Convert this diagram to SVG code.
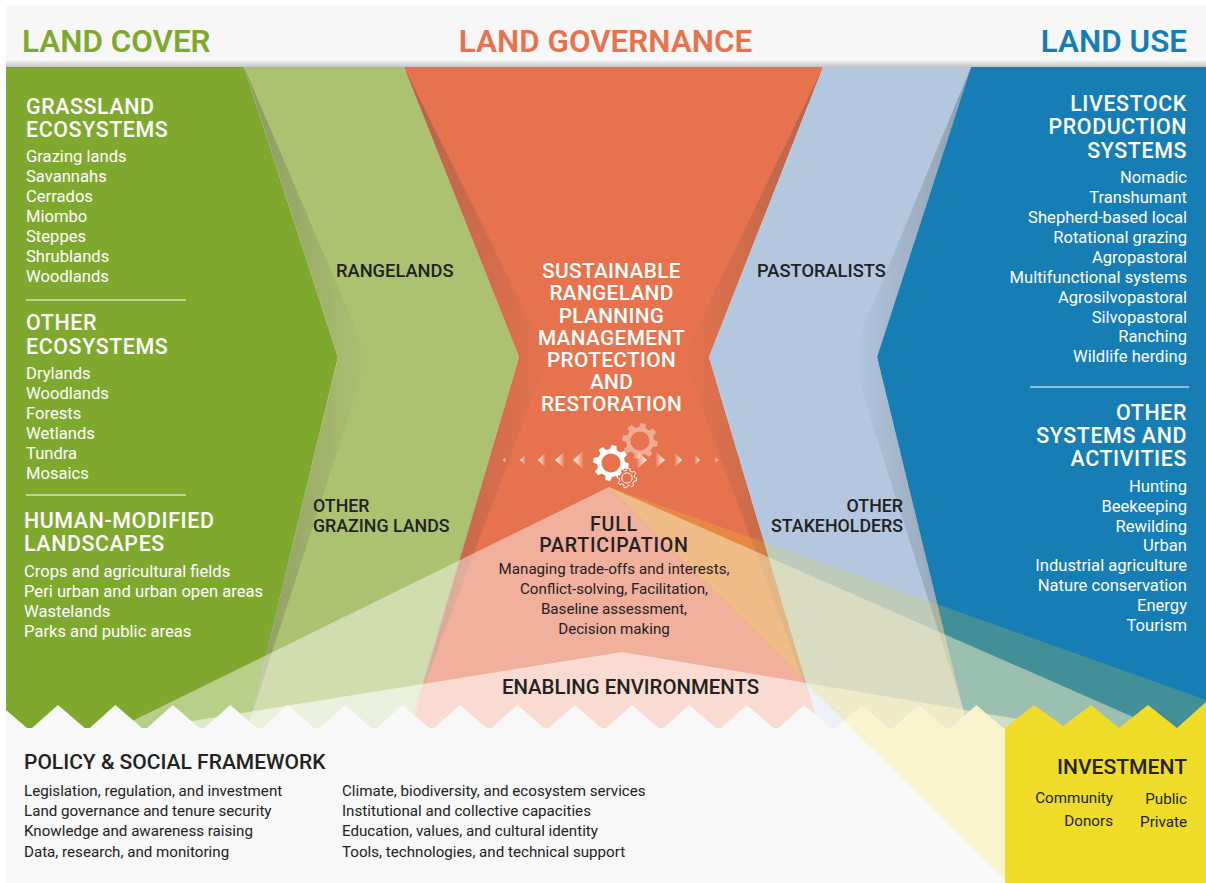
<svg xmlns="http://www.w3.org/2000/svg" width="1206" height="883" viewBox="0 0 1206 883">
<style>
text{font-family:Roboto,"Liberation Sans",sans-serif}
.h{font-size:31.4px;font-weight:600}
.w{fill:#fff}
.k{fill:#222}
.t{font-size:21.4px;font-weight:500;letter-spacing:.6px}
.i{font-size:16.6px}
.c{font-size:20.8px;font-weight:500;text-anchor:middle;letter-spacing:.35px}
.f{font-size:19.6px;font-weight:500;text-anchor:middle;letter-spacing:.8px}
.l{font-size:17.8px;font-weight:500}
.r{font-size:18.3px;font-weight:500}
.s{font-size:15.15px}
.m{font-size:15.15px;text-anchor:middle}
.e{text-anchor:end}
.rule{stroke:#fff;stroke-width:1.2}
</style>
<defs>
<linearGradient id="hs" x1="0" y1="0" x2="0" y2="1"><stop offset="0" stop-color="#f7f7f7"/><stop offset="1" stop-color="#c4c4c4"/></linearGradient>
<linearGradient id="sl" x1="0" y1="0" x2="1" y2="0"><stop offset="0" stop-color="#444" stop-opacity=".32"/><stop offset="1" stop-color="#444" stop-opacity="0"/></linearGradient>
<linearGradient id="sr" x1="1" y1="0" x2="0" y2="0"><stop offset="0" stop-color="#444" stop-opacity=".32"/><stop offset="1" stop-color="#444" stop-opacity="0"/></linearGradient>
<linearGradient id="al" x1="0" y1="0" x2="1" y2="0"><stop offset="0" stop-color="#fff"/><stop offset="1" stop-color="#fff" stop-opacity=".1"/></linearGradient>
<linearGradient id="ar" x1="1" y1="0" x2="0" y2="0"><stop offset="0" stop-color="#fff"/><stop offset="1" stop-color="#fff" stop-opacity=".1"/></linearGradient>
<path id="gearOut" d="M13.58 3.39L17.83 2.51L17.83 -2.51L13.58 -3.39L12 -7.21L14.38 -10.83L10.83 -14.38L7.21 -12L3.39 -13.58L2.51 -17.83L-2.51 -17.83L-3.39 -13.58L-7.21 -12L-10.83 -14.38L-14.38 -10.83L-12 -7.21L-13.58 -3.39L-17.83 -2.51L-17.83 2.51L-13.58 3.39L-12 7.21L-14.38 10.83L-10.83 14.38L-7.21 12L-3.39 13.58L-2.51 17.83L2.51 17.83L3.39 13.58L7.21 12L10.83 14.38L14.38 10.83L12 7.21Z"/>
<path id="gear" fill-rule="evenodd" d="M13.58 3.39L17.83 2.51L17.83 -2.51L13.58 -3.39L12 -7.21L14.38 -10.83L10.83 -14.38L7.21 -12L3.39 -13.58L2.51 -17.83L-2.51 -17.83L-3.39 -13.58L-7.21 -12L-10.83 -14.38L-14.38 -10.83L-12 -7.21L-13.58 -3.39L-17.83 -2.51L-17.83 2.51L-13.58 3.39L-12 7.21L-14.38 10.83L-10.83 14.38L-7.21 12L-3.39 13.58L-2.51 17.83L2.51 17.83L3.39 13.58L7.21 12L10.83 14.38L14.38 10.83L12 7.21ZM9.5 0A9.5 9.5 0 1 0 -9.5 0A9.5 9.5 0 1 0 9.5 0Z"/>
</defs>

<rect width="1206" height="883" fill="#fff"/>

<g id="panels">
<polygon fill="#7fa92e" points="6,67 244,67 338,357 248,730 6,730"/>
<polygon fill="#adc271" points="244,67 404,67 519,357 410,730 248,730 338,357"/>
<polygon fill="#e6734d" points="404,67 823,67 709,357 820,730 410,730 519,357"/>
<polygon fill="#b3c7df" points="823,67 971,67 877,357 968,730 820,730 709,357"/>
<polygon fill="#167eb4" points="971,67 1206,67 1206,730 968,730 877,357"/>
<polygon fill="url(#sl)" points="244,67 368,357 250,720 338,357"/>
<polygon fill="url(#sl)" points="404,67 548,357 414,712 519,357"/>
<polygon fill="url(#sr)" points="823,67 683,357 815,712 709,357"/>
<polygon fill="url(#sr)" points="971,67 851,357 964,712 877,357"/>
</g>

<g id="header">
<rect x="6" y="6" width="1200" height="55" fill="#f7f7f7"/>
<rect x="6" y="60" width="1200" height="7" fill="url(#hs)"/>
<text class="h" x="22" y="52" fill="#7fa92e">LAND COVER</text>
<text class="h" x="605.5" y="52" fill="#e6734d" text-anchor="middle">LAND GOVERNANCE</text>
<text class="h e" x="1187" y="52" fill="#167eb4">LAND USE</text>
</g>

<g id="overlays-left">
<polygon fill="#fff" fill-opacity=".44" points="609,487 6,783 6,883 1005,880"/>
<polygon fill="#fff" fill-opacity=".55" points="622,652 192,721 6,752 6,883 1005,880 807,683"/>
</g>

<g id="footer-base">
<polygon fill="#f8f8f8" points="6,710 27,728 32,728 58,705 84.7,728 89.7,728 115.4,705 142,728 147,728 172.8,705 199.5,728 204.5,728 230.2,705 256.9,728 261.9,728 287.6,705 314.3,728 319.3,728 345,705 371.7,728 376.7,728 402.4,705 429.1,728 434.1,728 459.8,705 486.5,728 491.5,728 517.2,705 543.9,728 548.9,728 574.6,705 601.3,728 606.3,728 632,705 658.7,728 663.7,728 689.4,705 716.1,728 721.1,728 746.8,705 773.5,728 778.5,728 804.2,705 830.9,728 835.9,728 861.6,705 888.3,728 893.3,728 919,705 945.7,728 950.7,728 976.4,705 1003.1,728 1010,728 1010,883 6,883"/>
</g>

<g id="overlays-right">
<polygon fill="#eedc28" fill-opacity=".2" points="609,487 1206,700 1206,883 1005,880"/>
<polygon fill="#f5eec8" fill-opacity=".5" points="609,487 1206,749 1206,883 1005,880"/>
<polygon fill="#fef7d2" fill-opacity=".55" points="807,683 1206,751 1206,883 1005,880"/>
</g>

<g id="investment">
<polygon fill="#eedc28" points="1005,728 1034,705 1063,726 1091,705 1119,728 1148,705 1177,728 1206,702 1206,883 1005,883"/>
<text class="k" x="1187" y="774" font-size="21.1" font-weight="500" text-anchor="end">INVESTMENT</text>
<text class="k e" x="1113" y="803" font-size="15.2">Community</text>
<text class="k e" x="1187" y="804" font-size="15.2">Public</text>
<text class="k e" x="1113" y="826" font-size="15.2">Donors</text>
<text class="k e" x="1187" y="827" font-size="15.2">Private</text>
</g>

<g id="land-cover">
<text class="w t" x="26" y="114">GRASSLAND</text>
<text class="w t" x="26" y="137">ECOSYSTEMS</text>
<text class="w i" x="26" y="162">Grazing lands</text>
<text class="w i" x="26" y="182">Savannahs</text>
<text class="w i" x="26" y="202">Cerrados</text>
<text class="w i" x="26" y="222">Miombo</text>
<text class="w i" x="26" y="242">Steppes</text>
<text class="w i" x="26" y="262">Shrublands</text>
<text class="w i" x="26" y="282">Woodlands</text>
<line class="rule" x1="26" y1="300" x2="186" y2="300"/>
<text class="w t" x="26" y="330">OTHER</text>
<text class="w t" x="26" y="354">ECOSYSTEMS</text>
<text class="w i" x="26" y="379">Drylands</text>
<text class="w i" x="26" y="399">Woodlands</text>
<text class="w i" x="26" y="419">Forests</text>
<text class="w i" x="26" y="439">Wetlands</text>
<text class="w i" x="26" y="459">Tundra</text>
<text class="w i" x="26" y="479">Mosaics</text>
<line class="rule" x1="26" y1="495" x2="186" y2="495"/>
<text class="w t" x="24" y="528">HUMAN-MODIFIED</text>
<text class="w t" x="24" y="551">LANDSCAPES</text>
<text class="w i" x="24" y="577">Crops and agricultural fields</text>
<text class="w i" x="24" y="597">Peri urban and urban open areas</text>
<text class="w i" x="24" y="617">Wastelands</text>
<text class="w i" x="24" y="637">Parks and public areas</text>
</g>

<g id="land-use">
<text class="w t e" x="1187" y="111">LIVESTOCK</text>
<text class="w t e" x="1187" y="134">PRODUCTION</text>
<text class="w t e" x="1187" y="158">SYSTEMS</text>
<text class="w i e" x="1187" y="183">Nomadic</text>
<text class="w i e" x="1187" y="203">Transhumant</text>
<text class="w i e" x="1187" y="223">Shepherd-based local</text>
<text class="w i e" x="1187" y="243">Rotational grazing</text>
<text class="w i e" x="1187" y="263">Agropastoral</text>
<text class="w i e" x="1187" y="283">Multifunctional systems</text>
<text class="w i e" x="1187" y="303">Agrosilvopastoral</text>
<text class="w i e" x="1187" y="323">Silvopastoral</text>
<text class="w i e" x="1187" y="342">Ranching</text>
<text class="w i e" x="1187" y="362">Wildlife herding</text>
<line class="rule" x1="1030" y1="387" x2="1189" y2="387"/>
<text class="w t e" x="1187" y="420">OTHER</text>
<text class="w t e" x="1187" y="443">SYSTEMS AND</text>
<text class="w t e" x="1187" y="466">ACTIVITIES</text>
<text class="w i e" x="1187" y="492">Hunting</text>
<text class="w i e" x="1187" y="512">Beekeeping</text>
<text class="w i e" x="1187" y="532">Rewilding</text>
<text class="w i e" x="1187" y="551">Urban</text>
<text class="w i e" x="1187" y="571">Industrial agriculture</text>
<text class="w i e" x="1187" y="591">Nature conservation</text>
<text class="w i e" x="1187" y="611">Energy</text>
<text class="w i e" x="1187" y="631">Tourism</text>
</g>

<g id="stakeholders">
<text class="k r" x="336" y="277">RANGELANDS</text>
<text class="k r" x="757" y="277">PASTORALISTS</text>
<text class="k l" x="313" y="512">OTHER</text>
<text class="k l" x="313" y="532">GRAZING LANDS</text>
<text class="k l e" x="903" y="512">OTHER</text>
<text class="k l e" x="903" y="532">STAKEHOLDERS</text>
</g>

<g id="governance">
<text class="w c" x="611.5" y="278">SUSTAINABLE</text>
<text class="w c" x="611.5" y="300">RANGELAND</text>
<text class="w c" x="611.5" y="323">PLANNING</text>
<text class="w c" x="611.5" y="345">MANAGEMENT</text>
<text class="w c" x="611.5" y="367">PROTECTION</text>
<text class="w c" x="611.5" y="389">AND</text>
<text class="w c" x="611.5" y="411">RESTORATION</text>
</g>

<g id="gears">
<g fill="url(#al)">
<polygon points="503,460 506,457 506,463"/>
<polygon points="520,460 525,455 525,465"/>
<polygon points="538,460 545,453 545,467"/>
<polygon points="555,460 564,452 564,468"/>
<polygon points="573,460 583,451 583,469"/>
</g>
<g fill="url(#ar)">
<polygon points="647,460 637,451 637,469"/>
<polygon points="665,460 656,452 656,468"/>
<polygon points="682,460 675,453 675,467"/>
<polygon points="700,460 695,455 695,465"/>
<polygon points="718,460 715,457 715,463"/>
</g>
<use href="#gear" transform="translate(640,441) rotate(10)" fill="#fff" fill-opacity=".4"/>
<use href="#gear" transform="translate(611,463) rotate(10)" fill="#fff"/>
<use href="#gearOut" transform="translate(627,478) rotate(10) scale(.55)" fill="#e6734d" stroke="#fff" stroke-width="1.6"/>
<circle cx="627" cy="478" r="5.2" fill="none" stroke="#fff" stroke-width=".9"/>
</g>

<g id="full-participation">
<text class="k f" x="614" y="531">FULL</text>
<text class="k f" x="614" y="552">PARTICIPATION</text>
<text class="k m" x="614" y="574">Managing trade-offs and interests,</text>
<text class="k m" x="614" y="594">Conflict-solving, Facilitation,</text>
<text class="k m" x="614" y="614">Baseline assessment,</text>
<text class="k m" x="614" y="634">Decision making</text>
</g>

<g id="enabling">
<text class="k" x="630.5" y="694" font-size="20.4" font-weight="500" text-anchor="middle">ENABLING ENVIRONMENTS</text>
</g>

<g id="policy">
<text class="k" x="24" y="769" font-size="21" font-weight="500">POLICY &amp; SOCIAL FRAMEWORK</text>
<text class="k s" x="24" y="796">Legislation, regulation, and investment</text>
<text class="k s" x="24" y="816">Land governance and tenure security</text>
<text class="k s" x="24" y="836">Knowledge and awareness raising</text>
<text class="k s" x="24" y="857">Data, research, and monitoring</text>
<text class="k s" x="342" y="796">Climate, biodiversity, and ecosystem services</text>
<text class="k s" x="342" y="816">Institutional and collective capacities</text>
<text class="k s" x="342" y="836">Education, values, and cultural identity</text>
<text class="k s" x="342" y="857">Tools, technologies, and technical support</text>
</g>
</svg>
